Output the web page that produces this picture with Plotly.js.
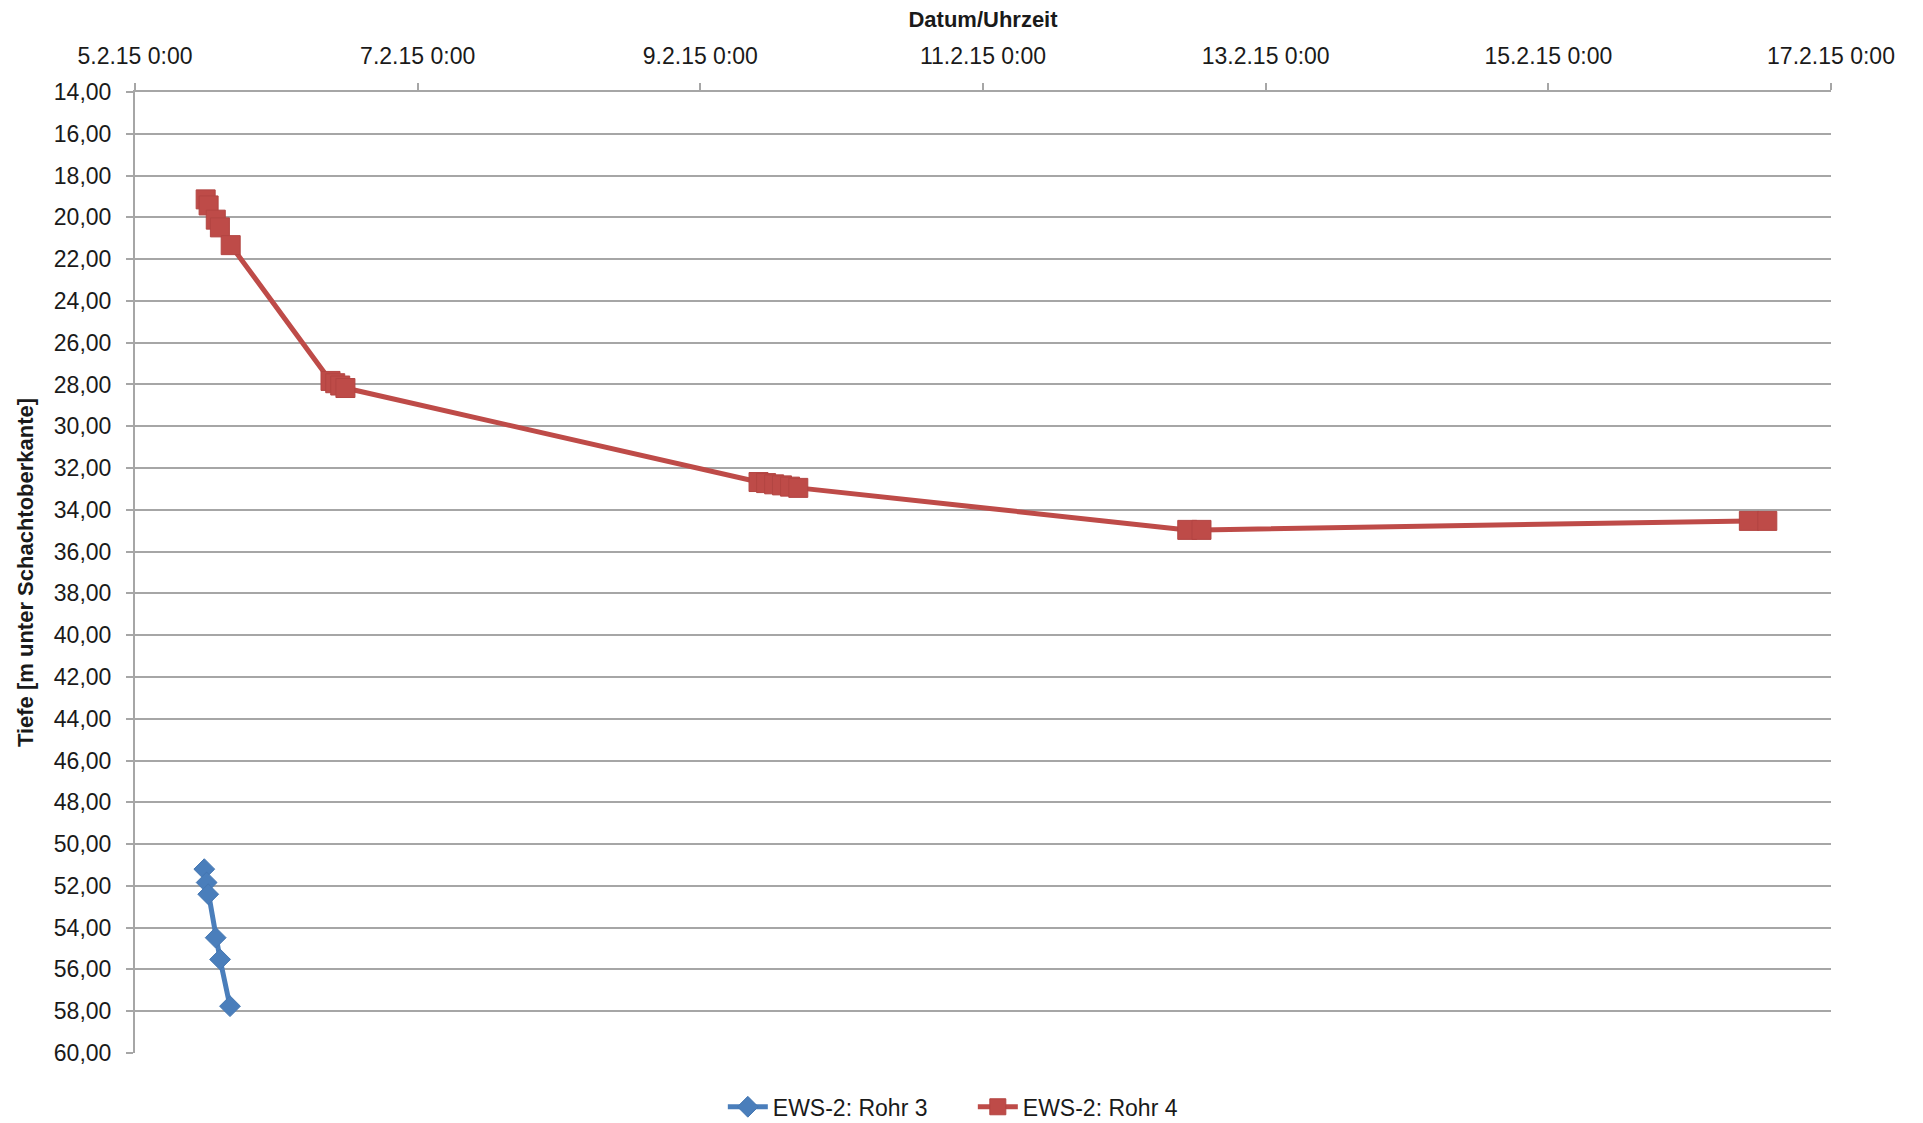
<!DOCTYPE html>
<html>
<head>
<meta charset="utf-8">
<script src="https://cdn.plot.ly/plotly-3.0.1.min.js"></script>
<style>
html,body{margin:0;padding:0;background:#fff;}
#chart{width:1923px;height:1123px;}
</style>
</head>
<body>
<div id="chart"></div>
<script>
// Data
var rohr3Time = ['2015-02-05 11:46','2015-02-05 12:10','2015-02-05 12:26','2015-02-05 13:42','2015-02-05 14:27','2015-02-05 16:08'];
var rohr3Depth = [51.20, 51.84, 52.40, 54.48, 55.52, 57.76];

var rohr4Time = ['2015-02-05 12:00','2015-02-05 12:30','2015-02-05 13:43','2015-02-05 14:25','2015-02-05 16:15',
                 '2015-02-06 09:12','2015-02-06 10:00','2015-02-06 10:51','2015-02-06 11:44',
                 '2015-02-09 09:53','2015-02-09 11:10','2015-02-09 12:32','2015-02-09 13:52','2015-02-09 15:14','2015-02-09 16:38',
                 '2015-02-12 10:41','2015-02-12 13:06',
                 '2015-02-16 10:03','2015-02-16 13:11'];
var rohr4Depth = [19.14, 19.43, 20.11, 20.48, 21.33,
                  27.83, 27.94, 28.05, 28.17,
                  32.67, 32.72, 32.78, 32.83, 32.89, 32.95,
                  34.96, 34.96,
                  34.53, 34.53];

var xTickVals = ['2015-02-05','2015-02-07','2015-02-09','2015-02-11','2015-02-13','2015-02-15','2015-02-17'];
var xTickText = ['5.2.15 0:00','7.2.15 0:00','9.2.15 0:00','11.2.15 0:00','13.2.15 0:00','15.2.15 0:00','17.2.15 0:00'];

var seriesNames = ['EWS-2: Rohr 3','EWS-2: Rohr 4'];

var fontFam = 'Liberation Sans, Arial, sans-serif';

var traces = [
  {
    x: rohr3Time, y: rohr3Depth, name: seriesNames[0],
    type: 'scatter', mode: 'lines+markers',
    line: {color: '#4A7EBB', width: 5},
    marker: {symbol: 'diamond', size: 16, color: '#4A7EBB', line: {color: '#4577B2', width: 1}}
  },
  {
    x: rohr4Time, y: rohr4Depth, name: seriesNames[1],
    type: 'scatter', mode: 'lines+markers',
    line: {color: '#BE4B48', width: 5},
    marker: {symbol: 'square', size: 19, color: '#BE4B48', line: {color: '#B34542', width: 1}}
  }
];

var layout = {
  width: 1923, height: 1123,
  margin: {l: 135, r: 92, t: 92, b: 70, autoexpand: false},
  paper_bgcolor: '#fff', plot_bgcolor: '#fff',
  separators: ',.',
  font: {family: fontFam, size: 23, color: '#1a1a1a'},
  showlegend: true,
  legend: {
    orientation: 'h', x: 0.494, xanchor: 'center', y: -0.056, yanchor: 'middle',
    font: {family: fontFam, size: 23, color: '#1a1a1a'},
    itemwidth: 40, entrywidth: 195, entrywidthmode: 'pixels', tracegroupgap: 0
  },
  xaxis: {
    type: 'date', side: 'top',
    range: ['2015-02-05', '2015-02-17'],
    tickmode: 'array', tickvals: xTickVals, ticktext: xTickText,
    ticks: 'outside', ticklen: 7, tickwidth: 2, tickcolor: '#A6A6A6',
    ticklabelstandoff: 10,
    showgrid: false, zeroline: false,
    showline: true, linecolor: '#A6A6A6', linewidth: 2,
    tickfont: {family: fontFam, size: 23, color: '#1a1a1a'},
    title: {text: 'Datum/Uhrzeit', font: {family: fontFam, size: 22, color: '#1a1a1a', weight: 'bold'}, standoff: 9},
    automargin: false
  },
  yaxis: {
    range: [60, 14], autorange: false,
    dtick: 2, tick0: 14, tickformat: '.2f',
    ticks: 'outside', ticklen: 7, tickwidth: 2, tickcolor: '#A6A6A6',
    showgrid: true, gridcolor: '#A6A6A6', gridwidth: 2,
    zeroline: false,
    showline: true, linecolor: '#A6A6A6', linewidth: 2,
    tickfont: {family: fontFam, size: 23, color: '#1a1a1a'},
    ticklabelstandoff: 10,
    title: {text: 'Tiefe [m unter Schachtoberkante]', font: {family: fontFam, size: 22, color: '#1a1a1a', weight: 'bold'}, standoff: 14},
    automargin: false
  }
};

Plotly.newPlot('chart', traces, layout, {displayModeBar: false, staticPlot: true});
</script>
</body>
</html>
